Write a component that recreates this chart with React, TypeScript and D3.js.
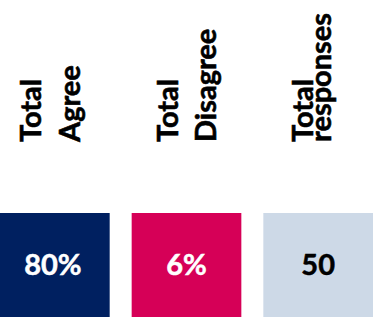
import React from "react";
import * as d3 from "d3";

const categories = ["Total Agree", "Total Disagree", "Total responses"];
const headerLines = [
  ["Total", "Agree"],
  ["Total", "Disagree"],
  ["Total", "responses"],
];
const values = ["80%", "6%", "50"];
const boxColors = ["#002060", "#D60057", "#CDD9E7"];
const valueColors = ["#ffffff", "#ffffff", "#000000"];

// header placement per column: first baseline offset from band start, line gap
const headerOffset = [41, 46, 50];
const headerGap = [39, 38, 18];

const W = 373;
const H = 318;
const FONT = "Lato, 'Open Sans', sans-serif";

export default function App() {
  const x = d3.scaleBand().domain(categories).range([0, W]).paddingInner(0.167).paddingOuter(0);
  const boxTop = 213;
  const boxBottom = 317;
  const headerBase = 142;

  return (
    <svg
      width={W}
      height={H}
      style={{ position: "absolute", top: 0, left: 0, display: "block" }}
    >
      <rect width={W} height={H} fill="#ffffff" />
      {categories.map((c, i) => {
        const x0 = x(c) ?? 0;
        const bw = x.bandwidth();
        return (
          <g key={c}>
            {headerLines[i].map((line, j) => (
              <text
                key={line}
                transform={`translate(${x0 + headerOffset[i] + j * headerGap[i]},${headerBase}) rotate(-90)`}
                fontFamily={FONT}
                fontWeight="bold"
                fontSize={29}
                fill="#000"
                stroke="#000"
                strokeWidth={0.6}
              >
                {line}
              </text>
            ))}
            <rect x={x0} y={boxTop} width={bw} height={boxBottom - boxTop} fill={boxColors[i]} />
            <text
              x={x0 + bw / 2 - (i === 0 ? 2 : 0)}
              y={(boxTop + boxBottom) / 2}
              dy="0.36em"
              textAnchor="middle"
              fontFamily={FONT}
              fontWeight="bold"
              fontSize={29}
              fill={valueColors[i]}
              stroke={valueColors[i]}
              strokeWidth={0.5}
            >
              {values[i]}
            </text>
          </g>
        );
      })}
    </svg>
  );
}
